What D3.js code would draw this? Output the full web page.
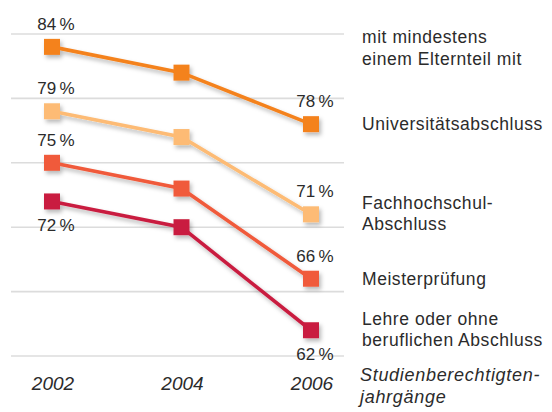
<!DOCTYPE html>
<html>
<head>
<meta charset="utf-8">
<script src="https://cdn.jsdelivr.net/npm/d3@7"></script>
<style>
  body { margin: 0; background: #fff; }
  svg { display: block; }
  text { font-family: "Liberation Sans", Arial, sans-serif; fill: #2b2b2b; }
</style>
</head>
<body>
<svg id="chart"></svg>
<script>
// data
var years = [2002, 2004, 2006];
var seriesNames = [["Universitätsabschluss"], ["Fachhochschul-", "Abschluss"], ["Meisterprüfung"], ["Lehre oder ohne", "beruflichen Abschluss"]];
var uni = [84, 82, 78];
var fh = [79, 77, 71];
var meister = [75, 73, 66];
var lehre = [72, 70, 62];
var gridValues = [60, 65, 70, 75, 80, 85];
var headerLines = ["mit mindestens", "einem Elternteil mit"];
var axisTitle = ["Studienberechtigten-", "jahrgänge"];

var colors = ["#f4821f", "#fdbb74", "#f05a3b", "#c91f40"];
var below = [false, false, false, true];   // label placement

var svg = d3.select("#chart").attr("width", 552).attr("height", 412);

var x = d3.scaleLinear().domain([2002, 2006]).range([52, 311]);
var y = d3.scaleLinear().domain([60, 85]).range([356, 34]);

var defs = svg.append("defs");
var f = defs.append("filter").attr("id", "shadow")
    .attr("x", "-20%").attr("y", "-20%").attr("width", "140%").attr("height", "160%");
f.append("feDropShadow").attr("dx", 2).attr("dy", 3).attr("stdDeviation", 2)
    .attr("flood-color", "#000").attr("flood-opacity", 0.28);

// grid
svg.append("g").selectAll("line")
  .data(gridValues)
  .enter().append("line")
    .attr("x1", 11).attr("x2", 344)
    .attr("y1", function(d) { return y(d); })
    .attr("y2", function(d) { return y(d); })
    .attr("stroke", "#dcdcdc")
    .attr("stroke-width", 1.6);

var series = [uni, fh, meister, lehre].map(function(vals, i) {
  return { name: seriesNames[i], color: colors[i], below: below[i],
    values: vals.map(function(v, j) { return { year: years[j], value: v }; }) };
});

var line = d3.line()
    .x(function(d) { return x(d.year); })
    .y(function(d) { return y(d.value); });

var s = svg.selectAll(".series")
  .data(series)
  .enter().append("g")
    .attr("class", "series")
    .attr("filter", "url(#shadow)");

s.append("path")
    .attr("d", function(d) { return line(d.values); })
    .attr("fill", "none")
    .attr("stroke", function(d) { return d.color; })
    .attr("stroke-width", 3.6);

s.selectAll("rect")
  .data(function(d) { return d.values.map(function(v) { return { v: v, color: d.color }; }); })
  .enter().append("rect")
    .attr("x", function(d) { return x(d.v.year) - 8; })
    .attr("y", function(d) { return y(d.v.value) - 8; })
    .attr("width", 16).attr("height", 16)
    .attr("fill", function(d) { return d.color; });

// value labels at first and last year
var labels = svg.append("g");
series.forEach(function(d) {
  [d.values[0], d.values[d.values.length - 1]].forEach(function(p) {
    labels.append("text")
      .attr("x", x(p.year) + 4)
      .attr("y", y(p.value) + (d.below ? 30 : -17))
      .attr("text-anchor", "middle")
      .style("font-size", "17px")
      .text(p.value + "\u2009%");
  });
});

// x axis labels
svg.append("g").selectAll("text")
  .data(years)
  .enter().append("text")
    .attr("x", function(d) { return x(d) + 1; })
    .attr("y", 390)
    .attr("text-anchor", "middle")
    .style("font-size", "19px")
    .style("font-style", "italic")
    .text(function(d) { return d; });

// legend
var lg = svg.append("g").style("font-size", "17.5px").style("letter-spacing", "0.55px");
headerLines.forEach(function(t, i) {
  lg.append("text").attr("x", 362).attr("y", 43 + i * 22).text(t);
});
series.forEach(function(d) {
  var last = d.values[d.values.length - 1];
  var y0 = y(last.value) + 6 - (d.name.length - 1) * 11;
  d.name.forEach(function(t, i) {
    lg.append("text").attr("x", 362).attr("y", y0 + i * 21).text(t);
  });
});
axisTitle.forEach(function(t, i) {
  lg.append("text").attr("x", 360).attr("y", 381 + i * 22)
    .style("font-style", "italic").style("font-size", "18px")
    .style("letter-spacing", "0.7px").text(t);
});
</script>
</body>
</html>
